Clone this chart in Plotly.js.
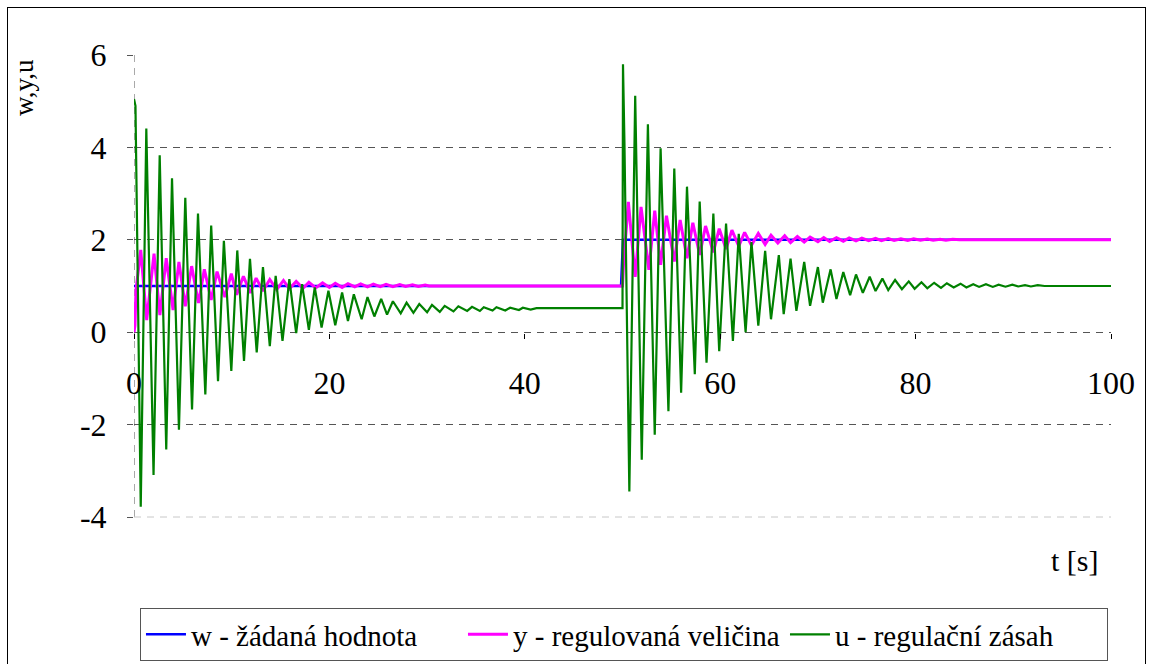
<!DOCTYPE html>
<html>
<head>
<meta charset="utf-8">
<script src="https://cdn.plot.ly/plotly-3.0.1.min.js"></script>
<style>
html,body{margin:0;padding:0;background:#fff;overflow:hidden;width:1153px;height:664px;}
#frame{position:absolute;left:7px;top:7px;width:1139px;height:720px;border:1px solid #000;box-sizing:border-box;pointer-events:none;z-index:5;}
#chart{position:absolute;left:0;top:0;width:1153px;height:664px;}
</style>
</head>
<body>
<div id="chart"></div>
<div id="frame"></div>
<script>
// ---- data ----
const seriesNames = ['w - žádaná hodnota', 'y - regulovaná veličina', 'u - regulační zásah'];

const tW = [0, 49.85, 50.05, 100];
const wVals = [1, 1, 2, 2];

const tY = [0, 0.1, 0.2, 0.69, 1.3, 2.05, 2.65, 3.3, 4.0, 4.6, 5.25, 5.9, 6.6, 7.2, 7.9, 8.5, 9.3, 9.96, 10.5,
  11.2, 11.9, 12.5, 13.2, 13.9, 14.6, 15.3, 15.9, 16.6, 17.3, 17.9, 18.6, 19.3, 20.0, 20.6, 21.3, 21.9, 22.6,
  23.2, 23.9, 24.5, 25.2, 25.8, 26.5, 27.2, 27.8, 28.5, 29.1, 29.8, 30.2, 50.0,
  50.1, 50.6, 51.3, 51.9, 52.7, 53.3, 53.9, 54.5, 55.3, 55.9, 56.6, 57.2, 57.9, 58.5, 59.3, 59.9, 60.6, 61.2,
  61.9, 62.5, 63.2, 63.9, 64.6, 65.2, 65.9, 66.6, 67.2, 67.9, 68.6, 69.2, 70.0, 70.6, 71.2, 71.9, 72.6, 73.2,
  73.9, 74.5, 75.2, 75.9, 76.5, 77.2, 77.8, 78.5, 79.2, 79.8, 80.5, 81.2, 81.8, 82.5, 83.1, 83.8, 84.5, 100];
const yVals = [0, 0.15, 0.9, 1.78, 0.26, 1.70, 0.37, 1.60, 0.48, 1.52, 0.56, 1.43, 0.63, 1.36, 0.70, 1.31, 0.76, 1.27, 0.81,
  1.21, 0.85, 1.17, 0.89, 1.14, 0.92, 1.12, 0.94, 1.10, 0.95, 1.08, 0.96, 1.07, 0.97, 1.06, 0.97, 1.05, 0.98,
  1.045, 0.98, 1.04, 0.985, 1.035, 0.985, 1.03, 0.99, 1.025, 0.99, 1.02, 1.0, 1.0,
  1.45, 2.82, 1.20, 2.71, 1.35, 2.63, 1.46, 2.52, 1.53, 2.43, 1.60, 2.37, 1.67, 2.30, 1.73, 2.24, 1.80, 2.21,
  1.86, 2.16, 1.88, 2.14, 1.90, 2.10, 1.93, 2.09, 1.94, 2.07, 1.95, 2.06, 1.96, 2.05, 1.965, 2.045, 1.97, 2.04,
  1.975, 2.035, 1.98, 2.03, 1.98, 2.025, 1.985, 2.02, 1.985, 2.02, 1.99, 2.015, 1.99, 2.01, 1.99, 2.01, 2.0, 2.0];

const tU = [0, 0.15, 0.69, 1.26, 2.0, 2.63, 3.3, 3.89, 4.6, 5.25, 5.94, 6.55, 7.3, 7.9, 8.6, 9.2, 9.96, 10.57,
  11.26, 11.87, 12.56, 13.2, 13.9, 14.5, 15.2, 15.9, 16.6, 17.2, 17.9, 18.5, 19.2, 19.9, 20.6, 21.3, 21.9, 22.5,
  23.3, 23.9, 24.6, 25.3, 25.9, 26.5, 27.3, 27.9, 28.6, 29.2, 30.0, 30.5, 31.3, 31.8, 32.7, 33.2, 34.1, 34.6,
  35.4, 35.8, 36.7, 37.1, 38.0, 38.5, 39.4, 39.8, 40.6, 41.2, 50.0,
  50.05, 50.2, 50.7, 51.3, 51.97, 52.6, 53.3, 53.9, 54.7, 55.3, 56.0, 56.6, 57.4, 57.9, 58.6, 59.3, 59.9, 60.6,
  61.3, 61.9, 62.6, 63.2, 63.9, 64.6, 65.2, 66.0, 66.5, 67.2, 67.8, 68.6, 69.2, 70.0, 70.5, 71.3, 71.9, 72.6,
  73.3, 73.9, 74.6, 75.3, 75.9, 76.6, 77.2, 77.9, 78.6, 79.3, 79.9, 80.6, 81.2, 81.9, 82.6, 83.2, 83.9, 84.6,
  85.2, 85.9, 86.5, 87.2, 87.9, 88.5, 89.2, 89.9, 90.5, 91.2, 91.8, 92.5, 93.2, 100];
const uVals = [5.05, 4.9, -3.78, 4.41, -3.09, 3.83, -2.54, 3.33, -2.11, 2.91, -1.67, 2.57, -1.35, 2.31, -1.06, 1.98, -0.84, 1.77,
  -0.62, 1.59, -0.44, 1.41, -0.30, 1.22, -0.19, 1.15, -0.02, 1.04, 0.05, 0.97, 0.10, 0.90, 0.15, 0.86, 0.24, 0.82,
  0.28, 0.76, 0.34, 0.72, 0.38, 0.67, 0.41, 0.64, 0.42, 0.61, 0.43, 0.59, 0.44, 0.57, 0.45, 0.56, 0.46, 0.55,
  0.46, 0.54, 0.47, 0.54, 0.47, 0.53, 0.48, 0.53, 0.49, 0.52, 0.52,
  5.8, 4.1, -3.45, 5.12, -2.76, 4.5, -2.22, 3.98, -1.71, 3.54, -1.31, 3.15, -0.91, 2.83, -0.66, 2.57, -0.41, 2.35,
  -0.19, 2.13, 0.0, 1.95, 0.14, 1.76, 0.28, 1.67, 0.39, 1.59, 0.46, 1.52, 0.57, 1.41, 0.64, 1.36, 0.72, 1.30,
  0.80, 1.25, 0.85, 1.20, 0.89, 1.16, 0.91, 1.13, 0.93, 1.10, 0.94, 1.08, 0.95, 1.07, 0.96, 1.06, 0.97, 1.05,
  0.97, 1.04, 0.98, 1.04, 0.98, 1.03, 0.985, 1.03, 0.99, 1.02, 0.99, 1.02, 1.0, 1.0];

const xTicks = [0, 20, 40, 60, 80, 100];
const yTicks = [-4, -2, 0, 2, 4, 6];
const xTitle = 't [s]';
const yTitle = 'w,y,u';

// ---- chart ----
const FONT = 'Liberation Serif';
const traces = [
  {x: tW, y: wVals, name: seriesNames[0], mode: 'lines', line: {color: '#0000ff', width: 2.5}},
  {x: tY, y: yVals, name: seriesNames[1], mode: 'lines', line: {color: '#ff00ff', width: 3}},
  {x: tU, y: uVals, name: seriesNames[2], mode: 'lines', line: {color: '#008000', width: 2.2}}
];

const layout = {
  width: 1153, height: 664,
  margin: {l: 134, r: 42, t: 55, b: 147, autoexpand: false},
  paper_bgcolor: '#ffffff', plot_bgcolor: '#ffffff',
  font: {family: FONT, size: 30, color: '#000'},
  showlegend: true,
  legend: {
    orientation: 'h', xref: 'container', x: 0.1214, y: -0.197, xanchor: 'left', yanchor: 'top',
    bordercolor: '#555', borderwidth: 1, font: {family: FONT, size: 29, color: '#000'},
    itemwidth: 40, entrywidth: 267, entrywidthmode: 'pixels', tracegroupgap: 0
  },
  xaxis: {
    range: [0, 100], tickvals: xTicks, ticktext: xTicks.map(String),
    showgrid: false, zeroline: false, showline: false,
    anchor: 'free', position: 0.398,
    ticks: 'outside', ticklen: 5, tickcolor: '#000', tickwidth: 1,
    ticklabelstandoff: 16, tickfont: {family: FONT, size: 32}
  },
  yaxis: {
    range: [-4, 6], tickvals: yTicks, ticktext: yTicks.map(String),
    showgrid: true, gridcolor: '#555', griddash: '7px,6px', gridwidth: 1,
    zeroline: false, showline: false,
    ticks: 'outside', ticklen: 6, tickcolor: '#555',
    ticklabelstandoff: 14, tickfont: {family: FONT, size: 32}
  },
  shapes: [
    {type: 'line', xref: 'x', yref: 'paper', x0: 0, x1: 0, y0: 0, y1: 1,
     line: {color: '#555', width: 1, dash: '7px,6px'}, layer: 'below'},
    {type: 'line', xref: 'paper', yref: 'paper', x0: 0, x1: 1, y0: 0, y1: 0,
     line: {color: '#c8c8c8', width: 1, dash: '7px,6px'}, layer: 'below'}
  ],
  annotations: [
    {text: yTitle, xref: 'paper', yref: 'paper', x: -0.112, y: 0.93, xanchor: 'center', yanchor: 'middle',
     textangle: -90, showarrow: false, font: {family: FONT, size: 27}},
    {text: xTitle, xref: 'paper', yref: 'paper', x: 0.963, y: -0.094, xanchor: 'center', yanchor: 'middle',
     showarrow: false, font: {family: FONT, size: 30}}
  ]
};

Plotly.newPlot('chart', traces, layout, {displayModeBar: false, staticPlot: true});
</script>
</body>
</html>
